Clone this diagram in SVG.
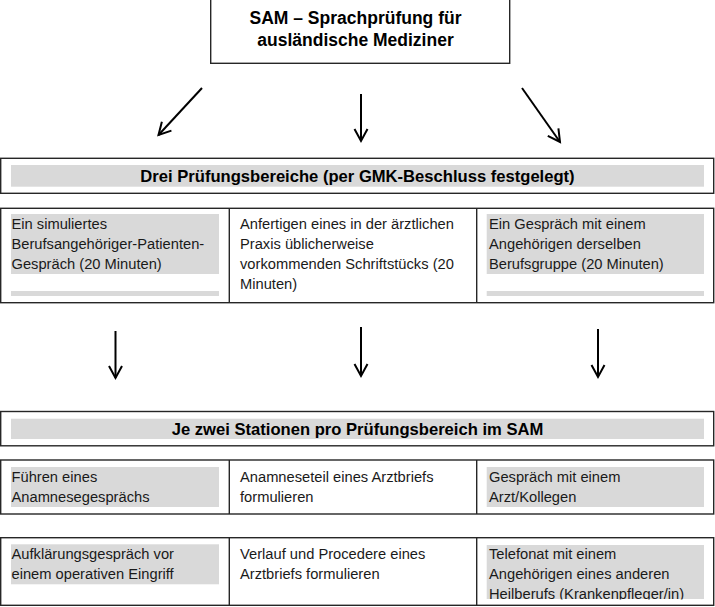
<svg xmlns="http://www.w3.org/2000/svg" width="715" height="607" viewBox="0 0 715 607">
<style>
.box{fill:#fff;stroke:#262626;stroke-width:1.4}
.bar{fill:#d9d9d9}
.ln{stroke:#262626;stroke-width:1.4}
.hd{font-family:"Liberation Sans",Arial,sans-serif;font-weight:bold;font-size:17.5px;fill:#000;text-anchor:middle}
.sh{font-family:"Liberation Sans",Arial,sans-serif;font-weight:bold;font-size:16.6px;fill:#000;text-anchor:middle}
.t{font-family:"Liberation Sans",Arial,sans-serif;font-size:14.7px;fill:#1a1a1a}
.arr{stroke:#000;stroke-width:2;fill:none;marker-end:url(#ah)}
</style>
<defs>
<marker id="ah" markerUnits="userSpaceOnUse" markerWidth="16" markerHeight="16" refX="13" refY="8" orient="auto">
<path d="M1,1.5 L13,8 L1,14.5" fill="none" stroke="#000" stroke-width="2"/>
</marker>
<clipPath id="cl4"><rect x="486" y="540" width="220" height="59.5"/></clipPath>
</defs>

<g id="top">
<rect class="box" x="210.7" y="-2" width="299" height="65.3"/>
<text class="hd" x="355.5" y="23.5">SAM – Sprachprüfung für</text>
<text class="hd" x="355.5" y="46">ausländische Mediziner</text>
</g>

<g id="connectors">
<line class="arr" x1="202" y1="88" x2="158.5" y2="135"/>
<line class="arr" x1="361" y1="94" x2="361" y2="141"/>
<line class="arr" x1="522" y1="88" x2="560" y2="142"/>
<line class="arr" x1="115.5" y1="331" x2="115.5" y2="378"/>
<line class="arr" x1="361" y1="327" x2="361" y2="376"/>
<line class="arr" x1="598" y1="329" x2="598" y2="377"/>
</g>

<g id="bereiche">
<rect class="box" x="0.7" y="158.3" width="713" height="35"/>
<rect class="bar" x="11" y="165" width="693" height="21.7"/>
<text class="sh" x="357.5" y="181.5">Drei Prüfungsbereiche (per GMK-Beschluss festgelegt)</text>
</g>

<g id="row2">
<rect class="box" x="0.7" y="208.3" width="713" height="94.4"/>
<line class="ln" x1="229.3" y1="208.3" x2="229.3" y2="302.7"/>
<line class="ln" x1="476.7" y1="208.3" x2="476.7" y2="302.7"/>
<rect class="bar" x="11" y="214" width="208" height="60"/>
<rect class="bar" x="11" y="291" width="208" height="5"/>
<rect class="bar" x="486.7" y="214" width="217.3" height="60"/>
<rect class="bar" x="486.7" y="291" width="217.3" height="5"/>
<text class="t" x="11.5" y="229">Ein simuliertes</text>
<text class="t" x="11.5" y="249">Berufsangehöriger-Patienten-</text>
<text class="t" x="11.5" y="269">Gespräch (20 Minuten)</text>
<text class="t" x="240" y="229">Anfertigen eines in der ärztlichen</text>
<text class="t" x="240" y="249">Praxis üblicherweise</text>
<text class="t" x="240" y="269">vorkommenden Schriftstücks (20</text>
<text class="t" x="240" y="289">Minuten)</text>
<text class="t" x="489" y="229">Ein Gespräch mit einem</text>
<text class="t" x="489" y="249">Angehörigen derselben</text>
<text class="t" x="489" y="269">Berufsgruppe (20 Minuten)</text>
</g>

<g id="stationen">
<rect class="box" x="0.7" y="411.5" width="713" height="34.3"/>
<rect class="bar" x="11" y="418.7" width="693" height="20.3"/>
<text class="sh" x="357.5" y="434.5">Je zwei Stationen pro Prüfungsbereich im SAM</text>
</g>

<g id="row3">
<rect class="box" x="0.7" y="460" width="713" height="54"/>
<line class="ln" x1="229.3" y1="460" x2="229.3" y2="514"/>
<line class="ln" x1="476.7" y1="460" x2="476.7" y2="514"/>
<rect class="bar" x="11" y="467" width="208" height="40"/>
<rect class="bar" x="486.7" y="467" width="217.3" height="40"/>
<text class="t" x="11.5" y="482">Führen eines</text>
<text class="t" x="11.5" y="502">Anamnesegesprächs</text>
<text class="t" x="240" y="482">Anamneseteil eines Arztbriefs</text>
<text class="t" x="240" y="502">formulieren</text>
<text class="t" x="489" y="482">Gespräch mit einem</text>
<text class="t" x="489" y="502">Arzt/Kollegen</text>
</g>

<g id="row4">
<rect class="box" x="0.7" y="537.7" width="713" height="67.6"/>
<line class="ln" x1="229.3" y1="537.7" x2="229.3" y2="605.3"/>
<line class="ln" x1="476.7" y1="537.7" x2="476.7" y2="605.3"/>
<rect class="bar" x="11" y="544.3" width="208" height="40"/>
<rect class="bar" x="486.7" y="545" width="217.3" height="54"/>
<text class="t" x="11.5" y="559">Aufklärungsgespräch vor</text>
<text class="t" x="11.5" y="579">einem operativen Eingriff</text>
<text class="t" x="240" y="559">Verlauf und Procedere eines</text>
<text class="t" x="240" y="579">Arztbriefs formulieren</text>
<g clip-path="url(#cl4)">
<text class="t" x="489" y="559">Telefonat mit einem</text>
<text class="t" x="489" y="579">Angehörigen eines anderen</text>
<text class="t" x="489" y="599">Heilberufs (Krankenpfleger/in)</text>
</g>
</g>
</svg>
